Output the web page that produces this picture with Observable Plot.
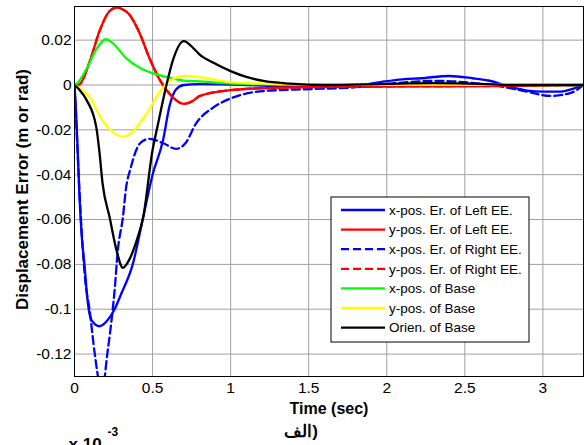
<!DOCTYPE html>
<html>
<head>
<meta charset="utf-8">
<script src="https://cdn.jsdelivr.net/npm/d3@7"></script>
<script src="https://cdn.jsdelivr.net/npm/@observablehq/plot@0.6"></script>
<style>
  html, body { margin: 0; padding: 0; background: #fff; }
  #chart { position: relative; width: 585px; height: 445px; overflow: hidden; }
</style>
</head>
<body>
<div id="chart"></div>
<script>
// ---- data (time [s], value) ----
const xLeftEE = [[0,0],[0.01,-0.012],[0.02,-0.028],[0.032,-0.05],[0.045,-0.066],[0.065,-0.081],[0.085,-0.097],[0.11,-0.105],[0.16,-0.1076],[0.21,-0.105],[0.257,-0.1],[0.3,-0.093],[0.373,-0.08],[0.437,-0.06],[0.5,-0.04],[0.566,-0.025],[0.61,-0.009],[0.65,-0.002],[0.7,0],[0.8,0.0004],[1.0,0.0002],[1.3,-0.0005],[1.6,-0.0008],[1.8,-0.0003],[1.96,0.0013],[2.1,0.0025],[2.22,0.003],[2.4,0.004],[2.55,0.003],[2.65,0.002],[2.8,-0.001],[2.9,-0.0025],[3.0,-0.003],[3.1,-0.003],[3.2,-0.0015],[3.26,0]];
const yLeftEE = [[0,0],[0.03,0.0003],[0.1,0.011],[0.16,0.024],[0.225,0.033],[0.27,0.0345],[0.3,0.034],[0.35,0.0315],[0.42,0.0226],[0.48,0.012],[0.55,0.0018],[0.61,-0.004],[0.7,-0.0084],[0.76,-0.007],[0.8,-0.005],[1.0,-0.0023],[1.32,-0.0012],[1.8,-0.0008],[2.2,-0.0006],[2.6,-0.0005],[3.0,-0.0002],[3.26,0]];
const xRightEE = [[0,0],[0.01,-0.015],[0.03,-0.045],[0.05,-0.07],[0.07,-0.088],[0.096,-0.1],[0.13,-0.12],[0.16,-0.133],[0.18,-0.135],[0.21,-0.12],[0.245,-0.1],[0.257,-0.0915],[0.277,-0.074],[0.31,-0.059],[0.33,-0.046],[0.36,-0.037],[0.39,-0.03],[0.42,-0.026],[0.48,-0.024],[0.57,-0.026],[0.65,-0.0285],[0.71,-0.026],[0.78,-0.017],[0.89,-0.010],[1.0,-0.006],[1.21,-0.0027],[1.53,-0.0018],[1.8,-0.001],[2.0,0.0005],[2.33,0.0018],[2.54,0.001],[2.75,-0.0009],[2.9,-0.003],[3.05,-0.0049],[3.18,-0.0035],[3.26,0]];
const yRightEE = [[0,0],[0.03,0.0003],[0.1,0.011],[0.16,0.024],[0.225,0.033],[0.27,0.0345],[0.3,0.034],[0.35,0.0315],[0.42,0.0226],[0.48,0.012],[0.55,0.0018],[0.61,-0.004],[0.7,-0.0084],[0.76,-0.007],[0.8,-0.005],[1.0,-0.0023],[1.32,-0.0012],[1.8,-0.0008],[2.2,-0.0006],[2.6,-0.0005],[3.0,-0.0002],[3.26,0]];
const xBase = [[0,0],[0.01,0.0003],[0.08,0.0076],[0.14,0.016],[0.2,0.0204],[0.245,0.0187],[0.33,0.012],[0.42,0.0076],[0.5,0.0053],[0.59,0.0036],[0.72,0.0018],[0.78,0.0017],[1.0,0.0006],[1.5,0.0001],[3.26,0]];
const yBase = [[0,0],[0.1,-0.0058],[0.18,-0.016],[0.245,-0.021],[0.31,-0.023],[0.37,-0.021],[0.46,-0.013],[0.55,-0.0027],[0.61,0.0018],[0.7,0.004],[0.8,0.0035],[1.0,0.0013],[1.32,0.0004],[2.0,0.0002],[3.26,0.0001]];
const orienBase = [[0,0],[0.03,-0.002],[0.08,-0.007],[0.14,-0.019],[0.16,-0.03],[0.18,-0.044],[0.225,-0.059],[0.27,-0.074],[0.31,-0.0815],[0.35,-0.078],[0.4,-0.069],[0.44,-0.059],[0.5,-0.029],[0.53,-0.019],[0.59,0.0003],[0.63,0.011],[0.7,0.0196],[0.76,0.0165],[0.8,0.0137],[0.89,0.0099],[1.0,0.0062],[1.1,0.0036],[1.21,0.0018],[1.38,0.0006],[1.6,0],[2.0,0.0005],[2.3,0.0008],[2.6,0.0005],[2.8,0],[3.26,0]];

const seriesNames = ["x-pos. Er. of Left EE.","y-pos. Er. of Left EE.","x-pos. Er. of Right EE.","y-pos. Er. of Right EE.","x-pos. of Base","y-pos. of Base","Orien. of Base"];
const seriesData = [xLeftEE, yLeftEE, xRightEE, yRightEE, xBase, yBase, orienBase];
const seriesColors = ["#0000ff","#ff0000","#0000ff","#ff0000","#00ff00","#ffff00","#000000"];
const seriesDashed = [false,false,true,true,false,false,false];

const xTicks = [0,0.5,1,1.5,2,2.5,3];
const yTicks = [0.02,0,-0.02,-0.04,-0.06,-0.08,-0.1,-0.12];
const xLabel = "Time (sec)";
const yLabel = "Displacement Error (m or rad)";
const captionText = "الف)";

const font = "'Liberation Sans', Arial, Helvetica, sans-serif";

const lineMarks = seriesData.map((data, i) => Plot.line(data, {
  x: d => d[0], y: d => d[1],
  stroke: seriesColors[i], strokeWidth: 2.3,
  strokeDasharray: seriesDashed[i] ? "8,4" : null,
  curve: "monotone-x", clip: true
}));

const chart = Plot.plot({
  width: 585, height: 445,
  marginTop: 6, marginBottom: 69, marginLeft: 74, marginRight: 2,
  style: { fontFamily: font, fontSize: "15px", color: "#000", background: "#fff" },
  x: { domain: [0, 3.26] },
  y: { domain: [-0.13, 0.035] },
  marks: [
    Plot.gridX(xTicks, { stroke: "#a0a0a0", strokeOpacity: 1, strokeWidth: 1 }),
    Plot.gridY(yTicks, { stroke: "#a0a0a0", strokeOpacity: 1, strokeWidth: 1 }),
    ...lineMarks,
    Plot.frame({ stroke: "#000", strokeWidth: 1 }),
    Plot.axisX({ ticks: xTicks, tickSize: 0, tickPadding: 5, tickFormat: d => String(d), label: null, fontSize: 15.5 }),
    Plot.axisY({ ticks: yTicks, tickSize: 0, tickPadding: 3, tickFormat: d => String(+d.toFixed(2)), label: null, fontSize: 15.5 }),
    Plot.text([yLabel], { text: d => d, frameAnchor: "left", textAnchor: "middle", rotate: -90, dx: -52, dy: -2, fontWeight: "bold", fontSize: 17 }),
    Plot.text([xLabel], { text: d => d, frameAnchor: "bottom", dy: 32, fontWeight: "bold", fontSize: 16, lineAnchor: "middle" }),
    Plot.text([captionText], { text: d => "\u200E" + d, frameAnchor: "bottom", textAnchor: "middle", dx: -28, dy: 55, fontWeight: "bold", fontSize: 17, lineAnchor: "middle" }),
    Plot.text(["x 10"], { text: d => d, frameAnchor: "bottom-left", textAnchor: "start", dx: -6, dy: 68, fontWeight: "bold", fontSize: 17, lineAnchor: "middle" }),
    Plot.text(["-3"], { text: d => d, frameAnchor: "bottom-left", textAnchor: "start", dx: 33, dy: 56, fontWeight: "bold", fontSize: 12, lineAnchor: "middle" })
  ]
});

document.getElementById("chart").appendChild(chart);

// legend box
const svg = d3.select(chart);
const lg = svg.append("g").attr("transform", "translate(331,197)");
lg.append("rect").attr("width", 198).attr("height", 145).attr("fill", "#fff").attr("stroke", "#000").attr("stroke-width", 1);
seriesNames.forEach((name, i) => {
  const y = 13 + i * 19.6;
  lg.append("line").attr("x1", 10).attr("x2", 54).attr("y1", y).attr("y2", y)
    .attr("stroke", seriesColors[i]).attr("stroke-width", 2.3)
    .attr("stroke-dasharray", seriesDashed[i] ? "8,4" : null);
  lg.append("text").attr("x", 58).attr("y", y).attr("dy", "0.35em")
    .attr("text-anchor", "start")
    .attr("font-family", font).attr("font-size", 13.5).attr("fill", "#000").text(name);
});
</script>
</body>
</html>
